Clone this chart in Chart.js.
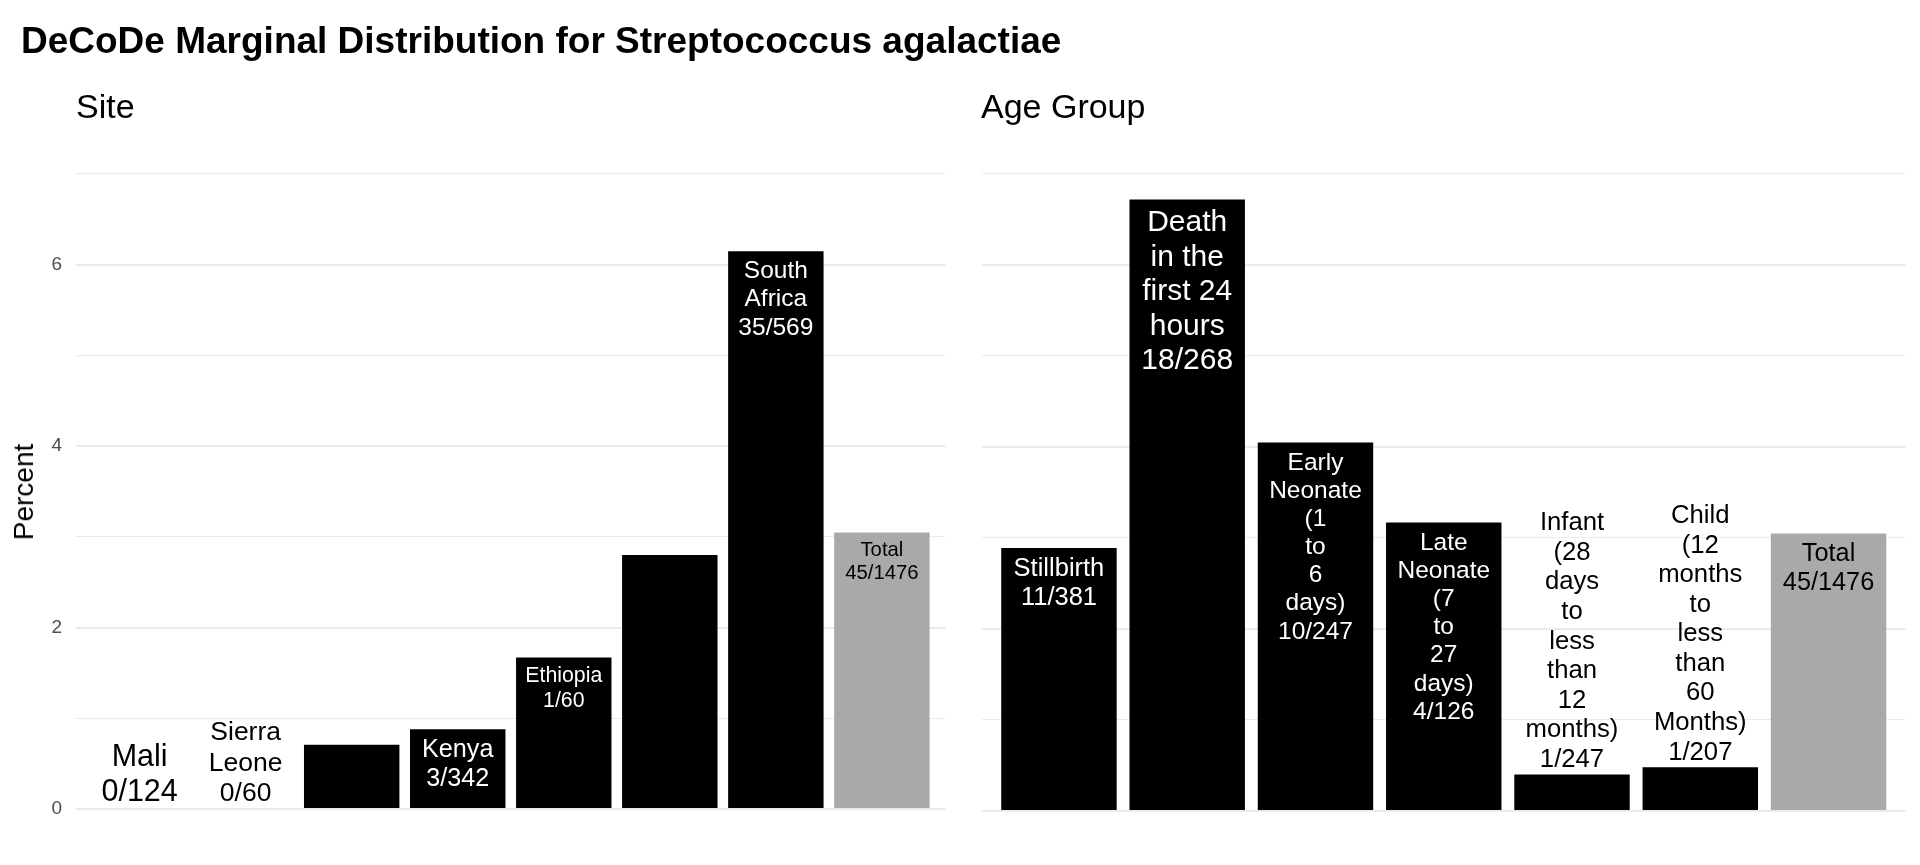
<!DOCTYPE html>
<html>
<head>
<meta charset="utf-8">
<script src="https://cdn.jsdelivr.net/npm/chart.js@4/dist/chart.umd.min.js"></script>
<style>
  html, body { margin: 0; padding: 0; background: #ffffff; }
  #wrap { position: relative; width: 1920px; height: 865px; overflow: hidden; font-family: "Liberation Sans", Arial, Helvetica, sans-serif; }
  canvas { position: absolute; top: 0; }
  .txt { position: absolute; white-space: nowrap; line-height: 1; color: #000; }
</style>
</head>
<body>
<div id="wrap">
  <canvas id="cSite" width="960" height="865" style="left:0px;width:960px;height:865px;"></canvas>
  <canvas id="cAge" width="960" height="865" style="left:960px;width:960px;height:865px;"></canvas>
  <div class="txt" style="left:21px;top:22px;font-size:37px;font-weight:bold;">DeCoDe Marginal Distribution for Streptococcus agalactiae</div>
  <div class="txt" style="left:76px;top:89px;font-size:34px;">Site</div>
  <div class="txt" style="left:981px;top:89px;font-size:34px;">Age Group</div>
  <div class="txt" style="left:23.5px;top:492px;font-size:28px;transform:translate(-50%,-50%) rotate(-90deg);">Percent</div>
</div>
<script>
// ---- data ----
const siteCategories = ["Mali", "Sierra Leone", "Bangladesh", "Kenya", "Ethiopia", "Mozambique", "South Africa", "Total"];
const sitePercent = [0, 0, 0.71, 0.88, 1.67, 2.80, 6.15, 3.05];
const siteCounts = ["0/124", "0/60", null, "3/342", "1/60", null, "35/569", "45/1476"];
const siteLabelWords = [["Mali"], ["Sierra", "Leone"], null, ["Kenya"], ["Ethiopia"], null, ["South", "Africa"], ["Total"]];

const ageCategories = ["Stillbirth", "Death in the first 24 hours", "Early Neonate (1 to 6 days)", "Late Neonate (7 to 27 days)", "Infant (28 days to less than 12 months)", "Child (12 months to less than 60 Months)", "Total"];
const agePercent = [2.89, 6.72, 4.05, 3.17, 0.40, 0.48, 3.05];
const ageCounts = ["11/381", "18/268", "10/247", "4/126", "1/247", "1/207", "45/1476"];
const ageLabelWords = [["Stillbirth"], ["Death", "in the", "first 24", "hours"], ["Early", "Neonate", "(1", "to", "6", "days)"], ["Late", "Neonate", "(7", "to", "27", "days)"], ["Infant", "(28", "days", "to", "less", "than", "12", "months)"], ["Child", "(12", "months", "to", "less", "than", "60", "Months)"], ["Total"]];

const yTicks = [0, 1, 2, 3, 4, 5, 6, 7];

// ---- label styles (separate from data) ----
const siteLabelSize = [30.5, 26.5, 0, 25.2, 21.3, 0, 24.5, 20.3];
const siteLabelPlace = ["out", "out", "", "in", "in", "", "in", "in"];
const ageLabelSize = [25.5, 30, 24.5, 24.5, 25.7, 25.7, 25.3];
const ageLabelPlace = ["in", "in", "in", "in", "out", "out", "in"];

const FONT = '"Liberation Sans", Arial, Helvetica, sans-serif';
Chart.defaults.font.family = FONT;

function barColors(cats) { return cats.map(c => c === "Total" ? "#A9A9A9" : "#000000"); }

const labelPlugin = {
  id: 'barLabels',
  afterDatasetsDraw(chart, args, opts) {
    const ctx = chart.ctx;
    const meta = chart.getDatasetMeta(0);
    meta.data.forEach((bar, i) => {
      const words = opts.words[i];
      if (!words) return;
      const lines = words.concat([opts.counts[i]]);
      const size = opts.sizes[i];
      const lh = size * 1.15;
      ctx.save();
      ctx.font = size + 'px ' + FONT;
      ctx.textAlign = 'center';
      ctx.textBaseline = 'alphabetic';
      let y0;
      if (opts.place[i] === 'in') {
        ctx.fillStyle = opts.cats[i] === 'Total' ? '#000000' : '#FFFFFF';
        y0 = bar.y + 7.5 + 0.8 * size;
      } else {
        ctx.fillStyle = '#000000';
        y0 = bar.y - 7.8 - (lines.length - 1) * lh;
      }
      lines.forEach((t, k) => ctx.fillText(t, bar.x, y0 + k * lh));
      ctx.restore();
    });
  }
};

function makeChart(id, cats, values, words, counts, sizes, place, yWidth, showTicks) {
  const n = cats.length;
  return new Chart(document.getElementById(id), {
    type: 'bar',
    data: {
      datasets: [{
        data: values.map((v, i) => ({x: i, y: v})),
        backgroundColor: barColors(cats),
        borderWidth: 0,
        categoryPercentage: 1.0,
        barPercentage: 0.9
      }]
    },
    options: {
      responsive: false,
      animation: false,
      devicePixelRatio: 1,
      layout: { padding: { top: 169.3, bottom: 23.4, left: 0, right: 14.5 } },
      plugins: {
        legend: { display: false },
        tooltip: { enabled: false },
        title: { display: false },
        barLabels: { words: words, counts: counts, sizes: sizes, place: place, cats: cats }
      },
      scales: {
        x: {
          type: 'linear',
          min: -0.6,
          max: n - 1 + 0.6,
          offset: false,
          display: false,
          afterBuildTicks: (scale) => { scale.ticks = cats.map((c, i) => ({value: i})); },
          grid: { display: false }
        },
        y: {
          min: -0.336,
          max: 7.052,
          border: { display: false },
          afterBuildTicks: (scale) => { scale.ticks = yTicks.map(v => ({value: v})); },
          afterFit: (scale) => { scale.width = yWidth; },
          grid: {
            color: '#EBEBEB',
            lineWidth: (c) => (c.tick && c.tick.value % 2 === 0) ? 2 : 1.1,
            drawTicks: false,
            tickLength: 0
          },
          ticks: {
            display: showTicks,
            color: '#4D4D4D',
            font: { size: 19, family: FONT },
            padding: 14,
            callback: (v) => (v % 2 === 0 ? String(v) : '')
          }
        }
      }
    },
    plugins: [labelPlugin]
  });
}

makeChart('cSite', siteCategories, sitePercent, siteLabelWords, siteCounts, siteLabelSize, siteLabelPlace, 76, true);
makeChart('cAge', ageCategories, agePercent, ageLabelWords, ageCounts, ageLabelSize, ageLabelPlace, 22, false);
</script>
</body>
</html>
